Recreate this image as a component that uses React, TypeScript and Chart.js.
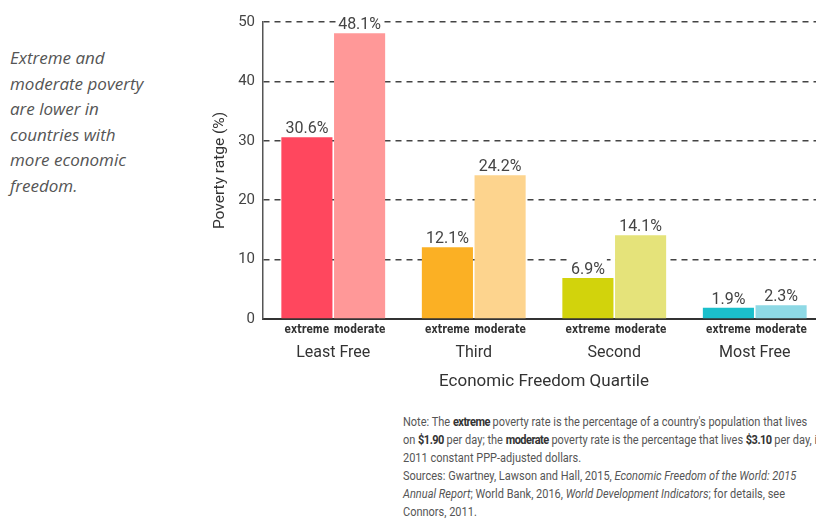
import React, { useEffect, useRef } from "react";
import { Chart, registerables } from "chart.js";

Chart.register(...registerables);

const categories = ["Least Free", "Third", "Second", "Most Free"];
const seriesNames = ["extreme", "moderate"];
const extremeValues = [30.6, 12.1, 6.9, 1.9];
const moderateValues = [48.1, 24.2, 14.1, 2.3];
const extremeColors = ["#FF475E", "#FBB024", "#D2D30C", "#1BBFCB"];
const moderateColors = ["#FF9898", "#FDD48E", "#E5E37A", "#8ED9E5"];
const yTicks = [0, 10, 20, 30, 40, 50];

const FONT = "Roboto, 'Liberation Sans', sans-serif";
const BOLDFONT = "'DejaVu Sans', sans-serif";

const labelsPlugin = {
  id: "barLabels",
  afterDatasetsDraw(chart: any) {
    const ctx = chart.ctx;
    ctx.save();
    chart.data.datasets.forEach((ds: any, di: number) => {
      const meta = chart.getDatasetMeta(di);
      meta.data.forEach((bar: any, i: number) => {
        const v = ds.data[i];
        const txt = v.toFixed(1) + "%";
        ctx.font = "16px " + FONT;
        const w = ctx.measureText(txt).width;
        ctx.fillStyle = "#fff";
        ctx.fillRect(bar.x - w / 2 - 2, bar.y - 22, w + 4, 19);
        ctx.fillStyle = "#444";
        ctx.textAlign = "center";
        ctx.textBaseline = "alphabetic";
        ctx.fillText(txt, bar.x, bar.y - 4);
        // series name under bar (condensed bold)
        ctx.save();
        ctx.translate(bar.x, chart.chartArea.bottom + 11);
        ctx.scale(0.76, 1);
        ctx.font = "bold 12.5px " + BOLDFONT;
        ctx.fillStyle = "#333";
        ctx.textBaseline = "middle";
        ctx.fillText(ds.label, 0, 0);
        ctx.restore();
      });
    });
    ctx.restore();
  },
};

function App() {
  const ref = useRef<HTMLCanvasElement>(null);
  useEffect(() => {
    const chart = new Chart(ref.current!, {
      type: "bar",
      data: {
        labels: categories,
        datasets: [
          { label: seriesNames[0], data: extremeValues, backgroundColor: extremeColors },
          { label: seriesNames[1], data: moderateValues, backgroundColor: moderateColors },
        ],
      },
      options: {
        animation: false,
        responsive: false,
        maintainAspectRatio: false,
        layout: { padding: { top: 22, left: 0, right: 0, bottom: 0 } },
        datasets: { bar: { categoryPercentage: 0.75, barPercentage: 0.97 } },
        plugins: { legend: { display: false }, tooltip: { enabled: false } },
        scales: {
          x: {
            grid: { display: false, drawTicks: false },
            border: { display: true, color: "#333", width: 2 },
            ticks: { font: { family: FONT, size: 16 }, color: "#333", padding: 24 },
            title: {
              display: true,
              text: "Economic Freedom Quartile",
              font: { family: FONT, size: 17 },
              color: "#333",
              padding: { top: 0, bottom: 8 },
            },
            afterFit: (s: any) => { s.height = 81; },
          },
          y: {
            min: 0,
            max: 50,
            afterBuildTicks: (s: any) => { s.ticks = yTicks.map((v) => ({ value: v })); },
            afterFit: (s: any) => { s.width = 63; },
            grid: { color: "#444", lineWidth: 1.5, drawTicks: false },
            border: { display: true, color: "#555", width: 1.5, dash: [6, 5] },
            ticks: { font: { family: FONT, size: 15 }, color: "#444", padding: 8 },
            title: {
              display: true,
              text: "Poverty ratge (%)",
              font: { family: FONT, size: 15.5 },
              color: "#333",
              padding: { top: 11, bottom: 0 },
            },
          },
        },
      },
      plugins: [labelsPlugin],
    });
    return () => chart.destroy();
  }, []);

  const bold = { fontWeight: 700, color: "#333", letterSpacing: "-0.6px" } as const;

  return (
    <div style={{ position: "fixed", left: 0, top: 0, width: 816, height: 532, overflow: "hidden", background: "#fff" }}>
      <div
        style={{
          position: "absolute", left: 10, top: 45, fontFamily: "'Open Sans', sans-serif", fontStyle: "italic",
          fontSize: 17, lineHeight: "25.5px", color: "#555",
        }}
      >
        Extreme and<br />moderate poverty<br />are lower in<br />countries with<br />more economic<br />freedom.
      </div>
      <canvas ref={ref} width={625} height={400} style={{ position: "absolute", left: 200, top: 0 }} />
      <div
        style={{
          position: "absolute", left: 403, top: 413, fontFamily: FONT, fontSize: 12.5,
          lineHeight: "18px", color: "#555", whiteSpace: "nowrap",
          transform: "scaleX(0.88)", transformOrigin: "0 0",
        }}
      >
        <div>Note: The <span style={bold}>extreme</span> poverty rate is the percentage of a country's population that lives</div>
        <div>on <span style={bold}>$1.90</span> per day; the <span style={bold}>moderate</span> poverty rate is the percentage that lives <span style={bold}>$3.10</span> per day, in</div>
        <div>2011 constant PPP-adjusted dollars.</div>
        <div>Sources: Gwartney, Lawson and Hall, 2015, <i>Economic Freedom of the World: 2015</i></div>
        <div><i>Annual Report</i>; World Bank, 2016, <i>World Development Indicators</i>; for details, see</div>
        <div>Connors, 2011.</div>
      </div>
    </div>
  );
}

export default App;
